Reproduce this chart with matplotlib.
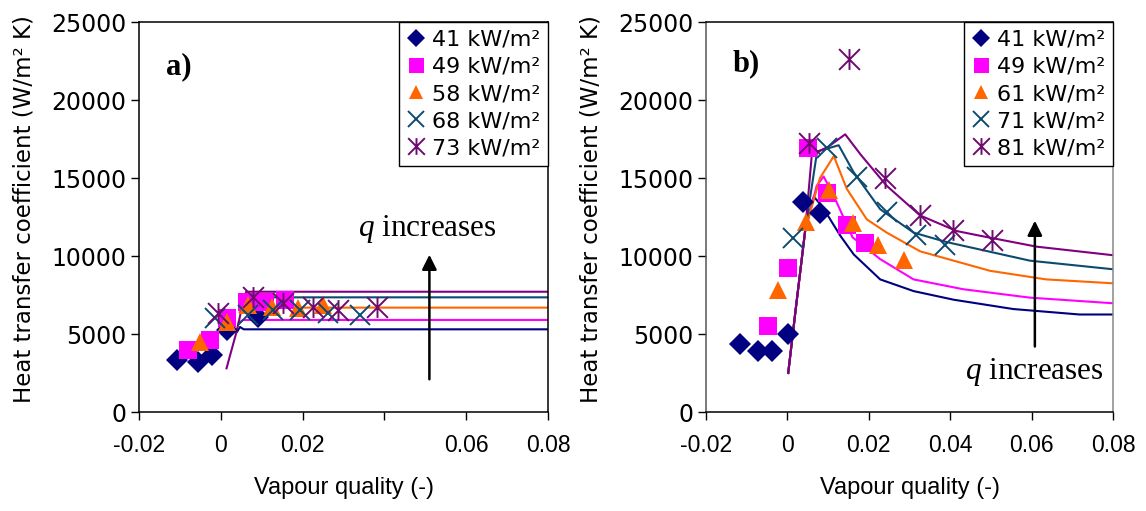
import numpy as np
import matplotlib
matplotlib.use("Agg")
import matplotlib.pyplot as plt
from matplotlib.path import Path

plt.rcParams["font.family"] = ["DejaVu Sans"]
plt.rcParams["mathtext.fontset"] = "custom"
plt.rcParams["mathtext.it"] = "Liberation Serif:italic"
plt.rcParams["mathtext.rm"] = "Liberation Serif"

# ── データ ───────────────────────────────────────────────────────────────
# a) 測定点
a_labels = ["41 kW/m²", "49 kW/m²", "58 kW/m²", "68 kW/m²", "73 kW/m²"]
a41_x = [-0.0108, -0.0055, -0.0022, 0.0014, 0.0091]
a41_y = [3330, 3220, 3650, 5260, 6110]
a49_x = [-0.0079, -0.0026, 0.0014, 0.0063, 0.0108, 0.0157]
a49_y = [3970, 4620, 6030, 7070, 7050, 7180]
a58_x = [-0.0051, 0.0014, 0.0067, 0.0124, 0.0189, 0.0250]
a58_y = [4510, 5790, 6860, 6750, 6670, 6860]
a68_x = [-0.0014, 0.0067, 0.0128, 0.0194, 0.0262, 0.0340]
a68_y = [6030, 6220, 6540, 6540, 6350, 6220]
a73_x = [-0.0007, 0.0079, 0.0152, 0.0225, 0.0287, 0.0382]
a73_y = [6350, 7370, 6990, 6730, 6540, 6730]

# a) 予測線
a_l41_x = [0.0040, 0.0047, 0.0056, 0.08]
a_l41_y = [5150, 5450, 5300, 5300]
a_l49_x = [0.0044, 0.0054, 0.08]
a_l49_y = [5700, 5900, 5900]
a_l58_x = [0.0046, 0.0058, 0.08]
a_l58_y = [6400, 6690, 6690]
a_l68_x = [0.0048, 0.0060, 0.08]
a_l68_y = [6900, 7350, 7350]
a_l73_x = [0.0014, 0.0026, 0.0038, 0.0050, 0.0062, 0.08]
a_l73_y = [2800, 3950, 5100, 6500, 7710, 7710]

# b) 測定点
b_labels = ["41 kW/m²", "49 kW/m²", "61 kW/m²", "71 kW/m²", "81 kW/m²"]
b41_x = [-0.0116, -0.0072, -0.0039, 0.0002, 0.0039, 0.0080]
b41_y = [4360, 3930, 3930, 5000, 13440, 12740]
b49_x = [-0.0047, 0.0002, 0.0051, 0.0097, 0.0146, 0.0191]
b49_y = [5510, 9210, 16900, 14060, 11990, 10810]
b61_x = [-0.0022, 0.0046, 0.0103, 0.0162, 0.0223, 0.0286]
b61_y = [7820, 12200, 14230, 12100, 10710, 9740]
b71_x = [0.0014, 0.0097, 0.0170, 0.0244, 0.0316, 0.0387]
b71_y = [11130, 16900, 15080, 12840, 11350, 10710]
b81_x = [0.0054, 0.0152, 0.0240, 0.0326, 0.0408, 0.0503]
b81_y = [17220, 22610, 14980, 12630, 11670, 11030]

# b) 予測線
b_l41_x = [0.0002, 0.0020, 0.0044, 0.0065, 0.0085, 0.0130, 0.0163, 0.0228, 0.0310, 0.0408, 0.0555, 0.0718, 0.08]
b_l41_y = [2500, 6500, 11700, 13800, 13200, 11300, 10100, 8500, 7750, 7200, 6600, 6250, 6250]
b_l49_x = [0.0002, 0.0020, 0.0044, 0.0072, 0.0089, 0.0114, 0.0160, 0.0228, 0.0310, 0.0432, 0.0596, 0.08]
b_l49_y = [2500, 6500, 11700, 14500, 15100, 13850, 11200, 9800, 8500, 7870, 7330, 6970]
b_l61_x = [0.0002, 0.0020, 0.0044, 0.0080, 0.0114, 0.0146, 0.0195, 0.0244, 0.0326, 0.0498, 0.0636, 0.08]
b_l61_y = [2500, 6500, 11700, 15000, 16400, 14300, 12350, 11500, 10300, 9050, 8500, 8250]
b_l71_x = [0.0002, 0.0020, 0.0044, 0.0073, 0.0126, 0.0162, 0.0228, 0.0310, 0.0390, 0.0596, 0.08]
b_l71_y = [2500, 6500, 11700, 16700, 17100, 15400, 13000, 11500, 10900, 9700, 9150]
b_l81_x = [0.0002, 0.0020, 0.0044, 0.0060, 0.0100, 0.0142, 0.0180, 0.0244, 0.0326, 0.0416, 0.0473, 0.0612, 0.08]
b_l81_y = [2500, 6500, 11700, 16500, 17000, 17800, 16500, 14500, 12600, 11600, 11300, 10600, 10050]

x_ticks = [-0.02, 0, 0.02, 0.04, 0.06, 0.08]
a_xticklabels = ["-0.02", "0", "0.02", "", "0.06", "0.08"]
b_xticklabels = ["-0.02", "0", "0.02", "0.04", "0.06", "0.08"]
y_ticks = [0, 5000, 10000, 15000, 20000, 25000]

# ── スタイル ─────────────────────────────────────────────────────────────
NAVY = "#000080"
MAGENTA = "#FF00FF"
ORANGE = "#FF6600"
TEAL = "#0D4A70"
PURPLE = "#800080"
PURPLE_M = "#6E0B6E"

asterisk = Path([(-1, -1), (1, 1), (-1, 1), (1, -1), (0, -1), (0, 1)],
                [Path.MOVETO, Path.LINETO, Path.MOVETO, Path.LINETO,
                 Path.MOVETO, Path.LINETO])

marker_styles = [
    dict(marker="D", ms=11, color=NAVY, mew=0),
    dict(marker="s", ms=13.5, color=MAGENTA, mew=0),
    dict(marker="^", ms=13, color=ORANGE, mew=0),
    dict(marker="x", ms=15, color=TEAL, mew=1.4),
    dict(marker=asterisk, ms=15, color=PURPLE_M, mew=1.4),
]
line_colors = [NAVY, MAGENTA, ORANGE, TEAL, PURPLE]

fig = plt.figure(figsize=(11.46, 5.11), dpi=100)
ax_a = fig.add_axes([139 / 1146, 99 / 511, 409 / 1146, 390 / 511])
ax_b = fig.add_axes([706 / 1146, 99 / 511, 407 / 1146, 390 / 511])


def draw_panel(ax, points, lines, labels, xticklabels):
    for (lx, ly), c in zip(lines, line_colors):
        ax.plot(lx, ly, "-", color=c, lw=1.5, zorder=2)
    handles = []
    for (px, py), st, lab in zip(points, marker_styles, labels):
        h, = ax.plot(px, py, ls="none", marker=st["marker"], ms=st["ms"],
                     color=st["color"], mec=st["color"], mew=st["mew"],
                     label=lab, zorder=3)
        handles.append(h)
    ax.set_xlim(-0.02, 0.08)
    ax.set_ylim(0, 25000)
    ax.set_xticks(x_ticks)
    ax.set_xticklabels(xticklabels, family="Liberation Sans", fontsize=16.5)
    ax.set_yticks(y_ticks)
    ax.set_yticklabels([str(v) for v in y_ticks], fontsize=17)
    ax.tick_params(axis="both", direction="out", length=6, width=1, color="black")
    ax.tick_params(axis="x", pad=10)
    ax.tick_params(axis="y", pad=3)
    for s in ax.spines.values():
        s.set_linewidth(1.1)
        s.set_color("black")
    ax.set_xlabel("Vapour quality (-)", family="Liberation Sans", fontsize=17, labelpad=14)
    leg = ax.legend(handles=handles, loc="upper right", borderaxespad=0,
                    fontsize=16, frameon=True, fancybox=False, framealpha=1,
                    edgecolor="black", handlelength=0.9, handletextpad=0.25,
                    labelspacing=0.32, borderpad=0.35, markerscale=0.8)
    leg.get_frame().set_linewidth(1.0)
    return ax


draw_panel(ax_a,
           [(a41_x, a41_y), (a49_x, a49_y), (a58_x, a58_y), (a68_x, a68_y), (a73_x, a73_y)],
           [(a_l41_x, a_l41_y), (a_l49_x, a_l49_y), (a_l58_x, a_l58_y),
            (a_l68_x, a_l68_y), (a_l73_x, a_l73_y)],
           a_labels, a_xticklabels)
draw_panel(ax_b,
           [(b41_x, b41_y), (b49_x, b49_y), (b61_x, b61_y), (b71_x, b71_y), (b81_x, b81_y)],
           [(b_l41_x, b_l41_y), (b_l49_x, b_l49_y), (b_l61_x, b_l61_y),
            (b_l71_x, b_l71_y), (b_l81_x, b_l81_y)],
           b_labels, b_xticklabels)
ax_b.spines["left"].set_color("#555555")
ax_b.spines["right"].set_color("#888888")

# 矢印と注記
ax_a.annotate("", xy=(0.0510, 10260), xytext=(0.0510, 1920),
              arrowprops=dict(arrowstyle="-|>", color="black", lw=1.8, mutation_scale=22))
ax_a.text(0.0505, 11730, r"$q$ increases", family="Liberation Serif",
          fontsize=22.5, ha="center", va="center")
ax_b.annotate("", xy=(0.0608, 12440), xytext=(0.0608, 4020),
              arrowprops=dict(arrowstyle="-|>", color="black", lw=1.8, mutation_scale=22))
ax_b.text(0.0608, 2560, r"$q$ increases", family="Liberation Serif",
          fontsize=22.5, ha="center", va="center")

ax_a.text(-0.0102, 22120, "a)", family="Liberation Serif", fontweight="bold",
          fontsize=22, ha="center", va="center")
ax_b.text(-0.0102, 22300, "b)", family="Liberation Serif", fontweight="bold",
          fontsize=22, ha="center", va="center")

ylab = "Heat transfer coefficient (W/m² K)"
fig.text(24 / 1146, 1 - 209 / 511, ylab, rotation=90, fontsize=16.5,
         ha="center", va="center")
fig.text(591 / 1146, 1 - 209 / 511, ylab, rotation=90, fontsize=16.5,
         ha="center", va="center")

fig.savefig("out.png", dpi=100)
